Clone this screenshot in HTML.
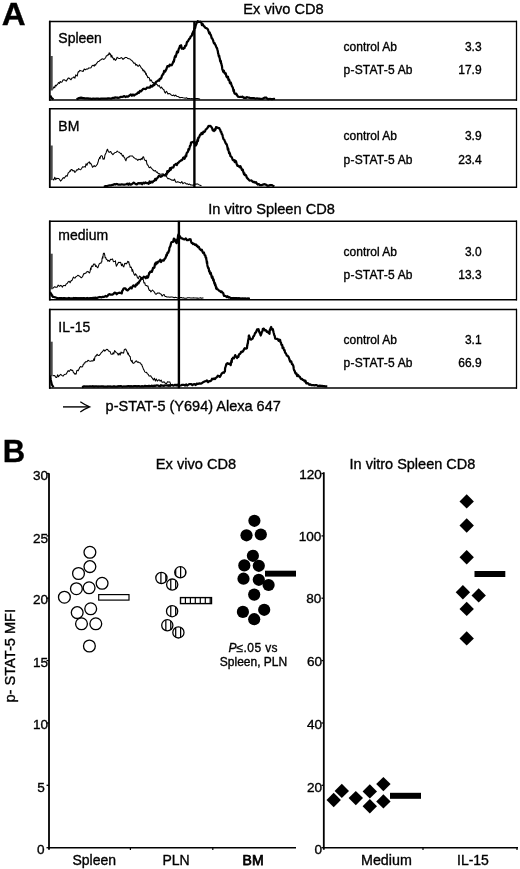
<!DOCTYPE html>
<html><head><meta charset="utf-8"><style>
html,body{margin:0;padding:0;background:#fff;}
svg{display:block;will-change:transform;}
text{font-family:"Liberation Sans", sans-serif;fill:#000;stroke:#000;stroke-width:0.35px;}
</style></head><body>
<svg width="520" height="869" viewBox="0 0 520 869">
<text transform="translate(1.8,25.4) scale(1.04,1)" font-size="31.8" font-weight="bold">A</text>
<text x="2.7" y="461.7" font-size="31" font-weight="bold">B</text>
<text x="243.3" y="13.6" font-size="14.6">Ex vivo CD8</text>
<text x="208.3" y="213.9" font-size="14.6">In vitro Spleen CD8</text>
<polyline points="52.5,89.5 53.2,88.2 54.0,86.9 54.7,87.8 55.4,85.2 56.1,86.0 56.9,84.7 57.6,84.4 58.5,82.5 59.4,83.5 60.2,81.5 61.1,82.3 62.0,82.0 63.0,80.1 64.1,79.7 65.1,80.3 66.2,81.1 67.2,79.6 68.2,78.1 69.1,78.1 70.1,79.0 71.0,79.8 72.0,78.0 73.0,77.8 73.9,76.8 74.9,78.2 75.8,74.8 76.8,75.8 77.3,76.0 77.8,73.2 78.3,71.7 78.8,71.9 79.9,70.4 80.9,70.7 82.0,71.0 83.1,71.5 84.2,69.0 85.4,69.8 86.5,69.0 87.7,69.1 88.8,67.9 90.0,68.0 91.0,67.7 92.1,65.7 93.2,65.2 94.2,66.2 94.9,64.5 95.6,65.2 96.3,63.6 97.0,63.0 98.0,61.5 98.9,61.5 99.9,60.4 100.9,59.8 102.0,58.8 103.0,59.0 103.9,59.4 104.8,58.6 105.7,57.5 106.4,55.7 107.1,55.8 107.8,54.7 108.5,54.9 109.2,52.7 109.8,54.4 110.5,53.9 111.1,57.1 111.8,55.3 112.4,57.5 113.1,58.0 113.8,59.8 114.6,58.6 115.3,60.4 116.2,59.6 117.1,57.3 118.0,58.0 119.0,58.4 120.1,58.5 121.1,57.5 122.1,58.1 123.0,59.4 124.0,58.5 125.4,57.4 126.8,57.5 127.9,58.6 128.9,58.8 130.0,59.0 130.9,60.0 131.7,60.4 132.6,61.3 133.8,63.2 135.0,63.0 135.8,65.2 136.7,64.5 137.6,65.9 138.4,66.2 139.4,64.9 140.5,66.5 141.3,68.0 142.2,68.7 143.0,70.7 143.8,70.0 144.3,72.0 144.8,71.2 145.3,72.5 145.8,74.4 146.2,73.3 146.7,75.7 147.2,75.7 147.7,77.7 148.5,77.3 149.3,77.9 150.1,81.0 150.9,79.7 151.7,80.9 152.5,82.5 153.5,82.6 154.4,84.5 155.4,82.4 156.3,84.0 157.3,84.7 158.2,86.2 159.2,85.4 160.0,87.2 160.7,88.1 161.5,87.0 162.2,88.2 163.0,89.2 163.8,89.5 164.6,92.0 165.4,93.1 166.3,91.3 167.1,92.2 167.9,94.0 169.0,93.5 170.1,93.8 171.2,95.0 172.4,95.6 173.5,95.0 174.6,96.0 175.7,95.1 176.7,96.3 177.8,96.4 178.9,97.0 179.9,97.8 181.0,97.5 182.1,97.5 183.1,97.8 184.2,97.9 185.3,98.2 186.4,97.8 187.5,98.5 188.6,98.5 189.6,98.6 190.7,98.7 191.8,98.6 192.9,98.8 194.1,98.7 195.3,98.5 196.5,98.6 197.7,98.5 198.8,98.7 200.0,99.3" fill="none" stroke="#000" stroke-width="1.05" stroke-linejoin="round"/>
<polyline points="76.5,99.2 78.0,98.6 79.0,98.0 80.0,97.8 81.0,97.7 82.0,97.9 83.0,98.1 84.0,98.2 85.0,98.5 86.0,98.3 87.0,98.4 88.0,98.4 89.0,98.6 90.0,98.5 91.0,98.8 92.0,98.8 93.0,98.6 94.0,98.7 95.0,98.8 96.0,98.7 97.0,98.7 98.0,98.6 99.0,98.9 100.0,98.9 101.0,98.7 102.0,98.7 103.0,98.5 104.0,98.5 105.0,98.5 106.0,98.5 107.0,98.7 108.0,98.4 109.0,98.3 110.0,98.5 111.0,98.6 112.0,98.2 113.0,97.8 114.0,98.0 115.0,97.4 116.0,97.7 117.0,97.5 118.0,97.9 119.0,97.7 120.0,97.4 121.0,96.8 122.0,97.0 123.1,96.6 124.3,96.1 125.4,97.0 126.5,96.4 127.7,96.7 128.8,96.0 129.9,95.2 130.9,94.5 131.9,95.7 133.0,94.5 134.0,95.5 135.0,94.7 136.0,94.2 137.0,93.8 138.0,92.5 139.0,92.8 139.9,90.9 140.9,91.3 141.9,90.4 142.9,89.1 143.9,88.7 144.8,89.0 145.8,89.2 146.9,87.7 148.0,87.5 148.9,87.5 149.8,87.7 150.8,85.8 151.7,86.7 152.6,86.3 153.5,84.4 154.4,85.0 155.4,82.8 156.3,81.7 157.3,81.1 158.2,80.4 159.2,80.6 159.7,78.8 160.3,79.0 160.8,78.8 161.4,77.7 161.9,75.7 162.5,75.2 163.0,73.8 163.5,73.8 164.1,70.9 164.6,71.7 165.2,71.6 165.7,70.4 166.3,69.4 166.8,67.8 167.4,66.1 167.9,66.2 168.9,66.4 169.8,64.6 170.8,65.3 171.7,65.2 172.7,63.3 173.1,62.0 173.5,61.1 173.8,61.7 174.2,60.1 174.6,57.6 175.0,56.5 175.4,55.6 175.7,56.8 176.1,55.5 176.5,53.7 177.0,51.7 177.5,52.7 178.0,52.2 178.4,50.3 178.9,48.5 179.4,48.1 179.9,45.9 180.4,46.0 181.1,45.3 181.9,48.7 182.6,48.5 183.3,48.8 183.9,47.9 184.5,48.1 185.1,45.8 185.7,46.0 186.3,45.0 186.9,42.3 187.5,41.5 188.1,41.2 188.7,39.7 189.4,38.5 190.0,38.5 190.6,36.7 191.3,36.1 191.9,35.4 192.3,33.4 192.6,34.6 193.0,32.1 193.4,31.4 193.7,30.8 194.1,30.8 194.4,28.4 194.8,27.7 195.2,27.9 195.6,25.8 195.9,24.9 196.3,23.9 196.7,22.9 197.7,21.2 198.6,22.0 199.6,21.8 200.4,21.7 201.2,22.0 201.9,25.0 202.7,24.1 203.5,25.8 204.4,26.5 205.4,27.9 206.4,28.1 207.3,28.7 207.8,29.2 208.3,30.7 208.7,31.7 209.2,33.3 209.7,32.4 210.2,34.6 210.7,34.7 211.1,35.8 211.6,38.1 212.1,38.3 212.6,39.3 213.1,40.4 213.5,41.9 214.0,43.3 214.5,42.9 215.0,44.4 215.5,45.0 215.9,46.0 216.4,47.5 216.9,47.9 217.2,48.8 217.5,50.1 217.8,51.0 218.1,53.4 218.4,53.8 218.6,55.3 218.9,56.6 219.2,55.7 219.5,57.6 219.8,58.5 220.1,60.8 220.3,61.5 220.6,60.6 220.9,61.6 221.1,63.6 221.4,63.6 221.6,65.1 221.9,65.7 222.2,68.4 222.4,69.7 222.7,70.0 223.3,71.9 223.9,70.7 224.5,73.1 225.1,73.8 225.7,73.2 226.3,76.1 226.9,77.2 227.5,76.7 228.0,76.9 228.4,79.9 228.9,79.3 229.4,80.5 229.9,82.9 230.4,83.4 230.8,82.5 231.3,84.4 231.7,85.2 232.0,86.4 232.4,86.9 232.8,87.5 233.1,88.9 233.5,91.0 233.9,90.1 234.2,92.6 234.6,93.4 235.5,94.1 236.3,93.7 237.2,95.5 238.1,96.7 239.2,97.0 240.4,96.9 241.5,97.0 242.6,96.6 243.6,97.8 244.7,97.7 245.8,98.0 246.8,97.2 247.9,97.5 248.9,97.5 250.0,98.0 251.0,98.2 252.0,98.0 253.0,98.0 254.0,98.2 255.0,98.5 256.0,98.5 257.0,98.3 258.0,98.5 259.0,98.5 260.0,98.9 261.0,98.9 262.0,99.0 263.0,98.7 264.0,98.0 265.0,97.5 266.0,97.5 267.0,98.3 268.0,99.0 269.0,99.0 270.0,98.8 271.0,99.0 272.0,99.0 273.0,99.0 274.0,98.8 275.0,99.0" fill="none" stroke="#000" stroke-width="2.25" stroke-linejoin="round"/>
<rect x="50.6" y="56" width="2.1" height="34.5" fill="#4a4a4a"/>
<line x1="49" y1="21.5" x2="517" y2="21.5" stroke="#000" stroke-width="1.4"/>
<line x1="49" y1="100.0" x2="517" y2="100.0" stroke="#000" stroke-width="1.4"/>
<line x1="49.8" y1="20.8" x2="49.8" y2="100.7" stroke="#000" stroke-width="1.8"/>
<line x1="516.5" y1="20.8" x2="516.5" y2="100.7" stroke="#000" stroke-width="1.3"/>
<text x="58.3" y="43.2" font-size="14">Spleen</text>
<text x="343.6" y="51.1" font-size="12">control Ab</text>
<text x="343.6" y="74.2" font-size="12" letter-spacing="0.2">p-STAT-5 Ab</text>
<text x="481.6" y="51.1" font-size="12" text-anchor="end">3.3</text>
<text x="481.6" y="74.2" font-size="12" text-anchor="end">17.9</text>
<polyline points="52.8,179.1 53.8,180.0 54.8,177.3 55.7,179.6 56.7,178.2 57.7,178.4 58.6,178.4 59.6,179.5 60.5,181.1 61.5,180.1 62.5,178.7 63.4,177.6 64.3,178.2 65.3,176.7 66.2,175.6 67.2,176.2 67.8,174.2 68.3,172.8 68.9,172.4 69.4,171.8 70.0,170.8 70.5,171.3 71.1,169.5 72.0,169.6 73.0,171.0 74.0,170.6 74.9,172.4 75.9,171.3 76.8,169.7 77.8,169.9 78.7,168.5 79.7,169.5 80.7,169.7 81.6,168.5 82.6,166.8 83.5,167.1 84.5,166.6 85.3,167.2 86.1,163.7 86.9,165.2 87.7,163.2 88.5,162.6 89.3,161.8 90.0,163.7 90.6,163.1 91.2,164.2 91.9,165.6 92.5,167.3 93.2,166.6 94.2,165.6 95.1,166.7 96.0,165.8 97.0,164.7 97.4,164.2 97.9,162.5 98.3,161.3 98.7,159.4 99.2,158.7 99.6,157.5 100.0,158.7 100.5,156.2 100.9,156.0 101.6,155.6 102.3,156.1 103.1,159.3 103.8,158.9 104.2,159.1 104.6,157.5 104.9,155.3 105.3,154.2 105.7,153.4 106.1,153.0 106.5,151.1 106.8,151.0 107.2,149.5 107.6,149.3 108.4,151.6 109.2,152.4 109.9,151.8 110.7,151.6 111.5,153.2 112.9,154.7 114.3,153.2 115.3,152.4 116.3,152.3 117.2,151.0 118.2,152.0 119.2,152.2 119.9,152.8 120.6,153.7 121.3,153.4 122.0,155.1 122.7,156.1 123.3,155.4 124.0,157.2 124.6,157.6 125.2,159.5 125.9,160.8 126.5,158.5 127.2,157.7 127.8,157.8 128.4,156.7 129.1,157.1 129.7,156.0 131.1,156.1 132.6,156.0 133.6,157.5 134.6,158.0 135.5,158.9 136.5,158.9 137.8,160.4 139.0,159.2 140.3,159.9 141.2,158.4 142.0,159.5 142.9,157.0 143.6,156.8 144.4,159.6 145.1,160.3 145.8,160.8 146.3,160.3 146.9,163.8 147.4,165.0 148.0,165.1 148.5,166.4 149.1,167.6 149.6,167.6 150.6,166.9 151.5,168.6 152.5,169.1 153.5,170.6 154.4,171.0 155.4,170.5 156.4,172.2 157.3,172.0 158.3,173.7 159.3,173.6 160.2,174.3 161.2,174.3 162.1,173.9 163.1,173.8 164.1,174.6 165.0,175.8 165.9,175.5 166.9,177.2 167.9,178.8 168.8,178.4 169.8,179.1 170.8,179.5 171.7,180.2 172.7,180.1 173.7,180.4 174.6,179.1 175.6,182.0 176.6,182.2 177.5,181.7 178.5,182.0 179.6,182.4 180.7,183.0 181.8,181.6 182.9,183.7 184.0,182.8 185.1,182.8 186.2,183.9 187.3,183.7 188.5,184.6 189.6,184.1 190.8,185.0 191.9,184.9 193.1,185.3 194.2,184.5 195.4,184.1 196.5,184.1 197.7,183.9 198.6,184.6 199.6,185.1 200.6,185.4 201.5,185.8" fill="none" stroke="#000" stroke-width="1.05" stroke-linejoin="round"/>
<polyline points="104.0,187.0 105.2,186.2 106.4,186.0 107.6,185.8 108.7,185.5 109.8,185.3 110.9,185.4 112.0,184.9 113.1,184.9 114.2,184.2 115.3,184.5 116.4,184.0 117.5,184.2 118.5,184.7 119.6,184.7 120.7,184.7 121.8,184.3 122.8,184.5 123.9,184.5 125.0,184.5 126.1,184.3 127.2,183.7 128.3,184.7 129.3,183.5 130.4,184.6 131.5,184.4 132.6,183.5 133.7,182.6 134.7,183.4 135.8,184.1 136.8,184.4 137.9,183.4 138.9,183.1 140.0,183.5 141.1,182.9 142.2,184.2 143.3,182.7 144.4,183.4 145.5,182.4 146.6,183.1 147.7,183.0 148.7,183.8 149.6,181.3 150.6,182.9 151.6,181.7 152.5,182.4 153.5,181.0 154.3,180.9 155.2,178.9 156.0,180.1 156.9,178.3 157.7,177.7 158.7,176.1 159.6,175.7 160.6,176.8 161.6,176.4 162.5,175.7 163.5,175.0 164.4,175.3 165.4,175.4 166.0,174.0 166.6,174.5 167.3,171.2 167.9,172.4 168.5,170.8 169.2,171.0 170.0,168.2 170.8,169.7 171.5,167.7 172.4,167.6 173.3,167.5 174.2,165.1 175.0,164.7 175.9,164.0 176.8,165.1 177.7,163.0 178.6,162.6 179.5,161.4 180.5,161.0 181.4,160.0 182.3,160.0 183.0,158.0 183.8,157.4 184.5,158.7 185.2,157.0 185.7,155.4 186.2,156.3 186.6,153.4 187.1,152.5 187.6,152.2 188.1,151.2 188.4,149.4 188.7,148.9 189.1,149.6 189.4,148.5 189.7,147.3 190.0,145.8 190.4,145.7 190.7,144.8 191.0,142.6 192.4,142.2 193.8,141.6 194.3,143.2 194.8,142.3 195.3,145.2 195.8,145.5 196.2,144.4 196.5,144.3 196.9,143.0 197.2,141.1 197.6,139.4 198.0,140.9 198.3,137.7 198.7,137.8 199.3,136.8 199.8,135.4 200.4,134.4 200.9,134.6 201.5,133.0 202.5,134.0 203.4,131.7 204.4,132.0 205.0,131.5 205.7,129.5 206.3,129.1 207.0,128.5 207.8,127.4 208.5,126.0 209.2,126.2 210.2,125.9 211.1,126.7 212.1,128.2 212.7,130.3 213.4,130.1 214.0,131.0 214.5,129.3 215.0,130.2 215.5,129.5 216.0,127.2 217.4,127.6 218.8,128.2 219.3,128.1 219.8,129.2 220.2,129.9 220.7,131.6 221.2,131.8 221.7,133.9 222.1,134.1 222.5,135.2 222.9,137.0 223.4,138.9 223.8,139.5 224.2,139.5 224.6,140.7 225.0,141.4 225.4,142.7 225.8,143.2 226.3,144.1 226.7,144.3 227.1,145.8 227.5,147.4 227.8,149.7 228.1,148.3 228.5,150.3 228.8,151.6 229.1,153.2 229.4,152.3 229.8,153.4 230.1,154.3 230.4,156.0 231.2,156.6 231.9,157.5 232.7,159.8 233.4,160.3 234.2,160.2 234.8,162.1 235.5,160.7 236.1,161.6 236.8,164.4 237.4,165.8 238.1,165.6 238.9,166.2 239.7,167.2 240.4,166.2 241.2,168.0 242.0,170.1 242.8,169.6 243.2,171.6 243.6,172.8 244.0,174.2 244.4,173.2 244.8,175.0 245.5,174.8 246.2,175.7 246.8,177.6 247.5,178.4 248.5,179.4 249.5,180.6 250.5,180.5 251.5,180.4 252.4,181.4 253.3,182.2 254.2,181.9 255.1,182.7 256.0,182.2 256.9,183.7 257.9,184.5 258.9,184.1 260.0,185.2 261.0,185.1 262.0,185.1 263.0,184.6 264.0,184.2 265.0,184.4 265.9,184.6 266.8,185.4 267.7,185.8 268.7,185.7 269.7,185.2 270.7,185.0 271.7,185.1 273.0,185.7 274.4,186.2" fill="none" stroke="#000" stroke-width="2.25" stroke-linejoin="round"/>
<rect x="50.6" y="145.5" width="2.1" height="34.6" fill="#4a4a4a"/>
<line x1="49" y1="108.7" x2="517" y2="108.7" stroke="#000" stroke-width="1.4"/>
<line x1="49" y1="187.2" x2="517" y2="187.2" stroke="#000" stroke-width="1.4"/>
<line x1="49.8" y1="108.0" x2="49.8" y2="187.89999999999998" stroke="#000" stroke-width="1.8"/>
<line x1="516.5" y1="108.0" x2="516.5" y2="187.89999999999998" stroke="#000" stroke-width="1.3"/>
<text x="58.3" y="130.5" font-size="14">BM</text>
<text x="343.6" y="140" font-size="12">control Ab</text>
<text x="343.6" y="163.6" font-size="12" letter-spacing="0.2">p-STAT-5 Ab</text>
<text x="481.6" y="140" font-size="12" text-anchor="end">3.9</text>
<text x="481.6" y="163.6" font-size="12" text-anchor="end">23.4</text>
<polyline points="51.8,288.3 52.8,288.3 53.8,287.4 54.7,286.7 55.7,287.3 57.0,287.3 58.2,285.1 59.5,286.3 60.5,285.4 61.5,285.7 62.4,287.1 63.4,285.4 64.3,285.4 65.3,285.7 66.2,283.9 67.2,283.5 68.2,281.9 69.2,281.2 70.1,282.8 71.1,280.6 71.9,280.6 72.7,278.7 73.5,277.1 74.3,278.0 75.1,277.9 75.9,276.7 76.9,276.1 77.8,275.3 78.8,275.8 80.1,276.6 81.3,277.8 82.6,276.7 83.2,275.0 83.9,273.6 84.5,273.8 85.2,273.2 85.8,273.3 86.5,271.9 87.9,271.4 89.3,272.9 89.6,272.9 90.0,271.7 90.3,270.0 90.6,268.1 91.0,269.6 91.3,267.1 92.0,265.8 92.8,266.7 93.5,264.1 94.2,264.2 94.9,264.0 95.6,266.5 96.3,265.7 97.0,267.1 97.8,267.8 98.6,265.6 99.3,263.8 100.1,263.2 100.9,263.3 101.2,262.1 101.5,261.9 101.8,261.9 102.1,258.3 102.3,258.2 102.6,256.6 102.9,258.1 103.2,254.5 103.5,253.2 103.8,253.7 104.3,253.2 104.8,255.3 105.2,257.8 105.7,257.5 106.4,259.5 107.2,259.7 107.9,261.3 108.6,260.4 109.6,261.4 110.5,259.2 111.5,259.4 112.5,258.9 113.4,261.7 114.3,261.6 115.3,261.3 115.5,260.8 115.7,263.8 115.9,263.9 116.1,264.8 116.3,266.2 117.1,264.9 117.8,263.6 118.6,262.3 119.3,262.4 120.1,262.3 120.8,262.8 121.5,265.7 122.3,264.0 123.0,266.2 123.8,266.9 124.6,263.6 125.4,263.3 126.2,264.0 127.0,263.1 127.8,261.3 128.3,262.1 128.8,261.8 129.2,264.1 129.7,264.8 130.2,267.5 130.7,267.1 131.2,267.1 131.7,268.6 132.1,271.3 132.6,269.5 133.1,271.6 133.6,272.9 134.2,274.7 134.9,275.4 135.5,273.8 136.1,274.6 136.8,275.5 137.4,277.7 138.4,278.6 139.3,276.1 140.3,276.5 141.0,278.1 141.6,279.3 142.2,278.3 142.9,279.6 143.4,279.8 143.9,283.0 144.4,282.9 144.8,282.7 145.3,285.1 145.8,285.4 146.5,285.5 147.2,286.1 147.9,286.0 148.7,289.1 149.4,290.4 150.1,290.2 150.8,291.9 151.5,291.2 152.5,290.0 153.4,291.0 154.4,292.1 155.4,293.9 156.3,294.2 157.3,293.1 158.3,293.1 159.2,292.9 160.2,293.8 161.2,294.3 162.1,296.1 163.1,295.0 164.1,294.5 165.0,296.4 165.9,296.5 166.9,296.9 167.9,297.0 168.8,296.9 169.9,297.2 171.0,296.9 172.0,297.0 173.1,297.2 174.2,297.7 175.3,297.2 176.3,297.4 177.4,298.0 178.5,297.9 179.5,297.7 180.5,297.6 181.5,297.6 182.5,297.9 183.5,297.8 184.5,298.2 185.5,298.2 186.5,298.2 187.5,297.8 188.5,297.7 189.5,297.7 190.5,297.9 191.5,298.1 192.5,297.9 193.5,297.8 194.5,297.9 195.5,298.0 196.5,298.1 197.5,298.1 198.5,298.2 199.5,298.1 200.5,297.8 201.5,298.2 202.5,297.9 203.5,298.0" fill="none" stroke="#000" stroke-width="1.05" stroke-linejoin="round"/>
<polyline points="50.0,292.0 50.6,293.2 51.1,293.6 51.7,295.6 52.2,295.3 52.8,296.9 54.0,297.0 55.2,297.3 56.4,297.7 57.6,298.2 58.6,298.4 59.6,298.2 60.7,298.1 61.7,298.2 62.7,298.4 63.7,298.2 64.7,298.1 65.7,298.3 66.8,298.3 67.8,298.4 68.8,298.0 69.8,298.2 70.8,298.3 71.8,298.3 72.9,298.4 73.9,298.0 74.9,298.1 75.9,298.0 76.9,298.1 78.0,298.4 79.0,298.2 80.0,298.4 81.0,298.1 82.0,298.4 83.0,298.2 84.1,298.1 85.1,298.3 86.1,298.4 87.1,298.0 88.1,298.2 89.1,298.3 90.2,298.1 91.2,298.1 92.2,298.2 93.3,297.9 94.3,297.8 95.4,297.7 96.4,297.8 97.5,297.8 98.5,297.3 99.6,297.0 100.6,297.2 101.7,297.4 102.7,296.8 103.8,297.0 104.8,296.4 105.7,295.9 106.7,296.6 107.6,295.9 108.6,294.5 109.6,294.2 110.5,294.6 111.5,294.7 112.4,294.7 113.4,294.0 114.5,292.7 115.6,292.8 116.7,294.2 117.8,293.2 118.9,292.8 120.0,292.7 121.1,293.1 121.7,293.4 122.3,290.7 122.8,290.4 123.4,288.9 124.0,288.3 125.2,288.3 126.4,289.8 127.6,290.4 128.8,289.2 129.8,288.3 130.7,287.4 131.7,288.4 132.6,286.4 133.6,285.4 134.5,286.3 135.3,286.6 136.1,284.5 136.9,284.8 137.7,282.8 138.5,283.4 139.3,281.5 140.0,280.7 140.8,279.2 141.5,278.0 142.2,278.7 143.0,277.8 143.8,276.7 144.8,277.3 145.8,278.3 146.7,276.3 147.7,277.7 148.1,277.1 148.5,275.4 148.8,274.8 149.2,272.9 149.6,272.9 150.3,271.6 151.1,271.5 151.8,271.9 152.5,270.0 153.0,267.9 153.4,268.0 153.9,268.0 154.4,267.5 154.9,264.3 155.4,263.2 155.8,264.5 156.3,262.3 157.3,263.3 158.2,261.6 159.2,261.3 160.2,259.8 161.1,262.0 162.1,260.3 163.1,260.4 163.8,260.6 164.6,258.8 165.3,258.4 166.0,256.5 166.5,254.6 166.9,255.4 167.4,252.9 167.9,252.4 168.3,252.7 168.8,250.8 169.1,250.8 169.4,248.0 169.8,247.1 170.1,246.7 170.4,246.0 170.7,244.7 171.1,243.0 171.4,242.4 171.7,242.1 172.4,242.0 173.1,241.8 173.9,238.6 174.6,239.2 175.1,240.3 175.6,241.9 176.0,240.8 176.5,243.1 176.8,243.0 177.0,239.9 177.2,240.1 177.5,238.9 177.8,238.0 178.0,236.0 178.2,235.3 178.5,234.4 179.1,235.6 179.8,236.1 180.4,237.3 181.4,238.4 182.3,238.4 183.3,239.2 184.6,239.4 185.8,238.5 187.1,240.2 188.1,240.2 189.0,239.5 190.0,239.2 190.6,239.4 191.2,241.9 191.7,242.9 192.3,242.9 192.9,244.0 193.8,243.6 194.8,244.9 195.8,244.4 196.7,246.0 197.4,245.7 198.1,247.2 198.9,247.0 199.6,248.8 200.3,249.4 201.1,250.3 201.8,249.7 202.5,251.7 203.2,253.1 203.9,252.5 204.7,255.3 205.4,255.6 205.6,257.4 205.9,257.7 206.1,257.5 206.4,259.8 206.6,260.5 206.9,263.1 207.1,261.9 207.3,264.9 207.6,266.4 207.8,266.7 208.1,267.9 208.3,268.1 208.7,268.2 209.1,271.4 209.5,270.9 210.0,273.2 210.4,274.1 210.8,272.9 211.2,274.8 211.6,276.6 212.0,277.9 212.4,276.5 212.8,278.2 213.2,280.3 213.6,279.6 214.0,281.5 214.4,283.6 214.7,282.8 215.1,285.3 215.4,284.4 215.8,286.3 216.2,288.5 216.5,287.4 216.9,289.2 217.9,289.3 218.9,290.7 219.8,290.9 220.8,292.1 221.6,291.5 222.4,292.5 223.2,293.1 224.0,295.9 224.8,295.8 225.6,296.0 226.6,297.0 227.5,296.3 228.5,297.5 229.4,297.2 230.4,297.9 231.5,298.0 232.5,298.1 233.6,298.0 234.7,298.2 235.7,298.1 236.8,298.2 237.9,298.4 238.9,298.1 240.0,298.3 241.0,298.5 242.0,298.4 243.0,298.3 244.0,298.5 245.0,298.3 246.0,298.6 247.0,298.5 248.0,298.4 249.0,298.6 250.0,298.5" fill="none" stroke="#000" stroke-width="2.25" stroke-linejoin="round"/>
<rect x="50.6" y="253.7" width="2.1" height="35.6" fill="#4a4a4a"/>
<line x1="49" y1="221.3" x2="517" y2="221.3" stroke="#000" stroke-width="1.4"/>
<line x1="49" y1="299.7" x2="517" y2="299.7" stroke="#000" stroke-width="1.4"/>
<line x1="49.8" y1="220.60000000000002" x2="49.8" y2="300.4" stroke="#000" stroke-width="1.8"/>
<line x1="516.5" y1="220.60000000000002" x2="516.5" y2="300.4" stroke="#000" stroke-width="1.3"/>
<text x="58.3" y="239.5" font-size="14">medium</text>
<text x="343.6" y="255.5" font-size="12">control Ab</text>
<text x="343.6" y="278.6" font-size="12" letter-spacing="0.2">p-STAT-5 Ab</text>
<text x="481.6" y="255.5" font-size="12" text-anchor="end">3.0</text>
<text x="481.6" y="278.6" font-size="12" text-anchor="end">13.3</text>
<polyline points="52.8,375.3 53.8,375.7 54.7,375.5 55.7,377.2 56.7,377.5 57.6,374.8 58.5,376.8 59.5,375.3 60.7,374.3 61.8,375.3 63.0,376.2 64.1,374.8 65.3,374.3 66.3,374.1 67.2,372.3 68.2,370.6 69.2,371.5 70.6,369.5 72.0,370.5 72.7,370.3 73.5,372.8 74.2,373.1 74.9,374.3 75.6,373.5 76.2,374.0 76.8,370.7 77.5,370.2 78.2,370.8 78.8,369.5 79.8,367.3 80.7,366.5 81.6,366.9 82.6,366.7 83.2,364.5 83.8,364.3 84.3,362.9 84.9,363.0 85.5,361.8 86.8,361.8 88.0,360.3 89.3,360.9 90.6,361.3 91.9,360.8 93.2,360.9 93.8,358.8 94.4,360.4 94.9,357.2 95.5,355.9 96.1,356.1 97.1,354.2 98.0,355.4 99.0,355.5 99.9,354.7 100.9,353.2 101.9,352.2 102.8,351.1 103.8,349.7 104.8,351.1 105.7,350.1 106.7,349.3 107.6,349.5 108.6,351.1 109.5,351.3 110.2,351.8 111.0,354.1 111.7,354.2 112.4,354.2 113.1,352.7 113.8,354.0 114.6,350.6 115.3,351.3 116.0,352.4 116.8,352.9 117.5,353.3 118.2,355.1 119.2,353.2 120.1,355.0 121.0,352.1 122.0,353.2 122.8,352.6 123.6,353.1 124.3,349.7 125.1,349.1 125.9,349.3 126.4,350.6 126.9,351.3 127.4,352.7 127.8,354.2 128.3,353.1 128.8,355.1 129.3,355.5 129.8,356.4 130.2,356.5 130.7,360.2 131.2,360.8 131.7,361.6 132.1,360.3 132.6,362.8 133.6,363.4 134.6,362.6 135.5,361.3 136.5,360.9 137.4,362.3 138.4,362.0 139.3,362.8 139.9,362.7 140.5,363.1 141.1,364.3 141.7,364.5 142.3,366.3 142.9,367.6 143.5,369.4 144.1,370.1 144.6,371.6 145.2,372.1 145.8,372.4 146.6,372.3 147.4,373.9 148.2,374.3 149.1,376.1 149.9,375.9 150.7,375.8 151.5,377.2 152.5,378.3 153.4,380.0 154.4,378.2 155.4,381.0 156.3,378.9 157.3,381.1 158.3,380.1 159.2,379.8 160.2,381.1 161.2,380.1 162.1,382.2 163.1,382.3 164.1,381.7 165.0,383.0 166.3,383.9 167.5,381.8 168.8,382.0 169.8,381.9 170.8,384.6 171.7,384.5 172.7,384.9 173.9,385.3 175.0,385.3 176.2,385.9 177.3,385.2 178.5,385.3" fill="none" stroke="#000" stroke-width="1.05" stroke-linejoin="round"/>
<polyline points="82.0,387.2 83.0,386.9 84.0,386.3 85.0,386.4 86.0,386.5 87.0,386.3 88.0,386.5 89.0,386.4 90.0,386.3 91.0,386.3 92.0,386.5 93.0,386.2 94.0,386.6 95.0,386.3 96.0,386.3 97.0,386.3 98.0,386.7 99.0,386.4 100.0,386.5 101.0,386.3 102.0,386.3 103.0,386.3 104.0,386.6 105.0,386.5 106.0,386.6 107.0,386.6 108.0,386.3 109.0,386.5 110.0,386.4 111.0,386.6 112.0,386.6 113.0,386.6 114.0,386.2 115.0,386.6 116.0,386.6 117.0,386.6 118.0,386.2 119.0,386.3 120.0,386.2 121.0,386.2 122.0,386.5 123.0,386.5 124.0,386.4 125.0,386.5 126.0,386.4 127.0,386.3 128.0,386.2 129.0,386.2 130.0,386.5 131.0,386.2 132.0,386.3 133.0,386.3 134.0,386.1 135.0,386.2 136.0,386.2 137.0,386.4 138.0,386.2 139.0,386.2 140.0,386.3 141.0,386.5 142.0,386.2 143.0,386.4 144.0,386.3 145.0,385.9 146.0,386.1 147.0,386.1 148.0,386.2 149.0,385.9 150.0,386.2 151.0,386.0 152.0,385.7 153.0,386.2 154.0,385.6 155.0,386.1 156.0,385.6 157.0,385.4 158.0,385.5 159.0,386.0 160.0,386.1 161.0,385.2 162.0,385.6 163.0,385.6 164.1,385.9 165.1,385.3 166.1,385.5 167.1,385.4 168.1,385.8 169.1,385.2 170.1,385.9 171.1,385.2 172.1,385.0 173.1,385.6 174.1,385.3 175.1,384.8 176.1,385.4 177.1,384.7 178.1,385.6 179.1,385.4 180.1,385.5 181.1,385.3 182.1,384.9 183.1,384.9 184.1,384.9 185.1,385.5 186.1,384.4 187.1,385.5 188.1,384.9 189.2,384.1 190.2,384.2 191.3,384.2 192.4,385.2 193.4,384.4 194.5,384.1 195.6,385.0 196.6,383.6 197.7,384.0 198.7,383.6 199.6,383.4 200.6,383.7 201.6,383.4 202.5,382.7 203.5,382.0 204.6,381.4 205.8,381.2 206.9,380.5 208.1,382.2 209.2,381.1 210.2,381.1 211.1,380.8 212.1,378.7 213.1,379.2 214.1,378.5 215.0,379.0 215.9,377.9 216.9,377.2 217.9,375.7 218.9,376.1 219.8,376.9 220.8,375.3 221.6,373.8 222.3,372.9 223.1,372.5 223.8,372.8 224.6,371.5 224.9,371.4 225.1,368.3 225.4,367.2 225.7,366.4 226.0,365.5 226.2,365.0 226.5,363.8 227.5,363.1 228.4,363.8 229.4,363.6 230.4,364.7 230.7,365.1 231.0,363.4 231.4,360.7 231.7,362.2 232.0,358.8 232.3,359.0 233.0,357.7 233.8,358.4 234.5,356.9 235.2,355.1 235.8,356.7 236.5,356.9 237.1,358.0 237.7,356.3 238.4,356.8 239.0,354.5 239.7,354.0 240.3,353.7 241.0,351.9 241.6,352.4 242.2,351.3 242.9,351.5 243.5,350.4 244.2,349.0 244.8,348.2 245.9,348.6 246.9,348.2 247.1,347.0 247.2,345.1 247.4,345.3 247.6,343.7 247.8,343.6 247.9,343.0 248.1,340.6 248.3,339.9 248.5,339.4 248.7,337.4 248.8,335.8 249.0,335.5 249.5,337.2 250.1,338.7 250.6,339.4 251.1,339.7 251.8,339.2 252.6,338.6 253.3,336.5 253.8,336.1 254.3,335.2 254.8,333.8 255.4,332.5 255.9,332.5 256.4,331.3 257.1,329.4 257.8,329.6 258.5,329.1 258.9,331.0 259.2,331.8 259.6,332.7 260.0,332.7 260.3,334.2 260.7,335.5 261.1,334.3 261.4,333.7 261.8,332.0 262.1,331.7 262.4,331.4 262.8,329.1 263.8,328.6 264.9,330.3 265.9,330.2 266.7,331.8 267.5,331.5 268.3,332.6 269.1,333.4 269.5,333.7 269.8,330.0 270.1,330.3 270.5,328.2 270.9,328.9 271.2,327.0 271.7,329.3 272.2,329.2 272.8,329.1 273.3,331.3 273.6,332.6 273.9,333.5 274.2,335.1 274.6,335.6 274.9,337.0 275.2,338.6 275.5,338.7 276.6,339.0 277.6,338.9 278.6,340.7 279.7,339.7 280.1,339.9 280.5,342.3 281.0,342.6 281.4,344.7 281.8,345.0 282.2,344.9 282.6,348.2 283.0,347.4 283.4,347.5 283.8,349.0 284.2,350.3 284.6,350.1 285.0,352.4 285.6,353.1 286.2,354.0 286.8,355.7 287.4,355.6 288.0,356.2 288.6,357.0 289.2,358.7 289.7,360.3 290.3,361.7 290.8,361.4 291.3,361.4 291.9,364.0 292.4,364.0 292.7,364.8 293.1,365.3 293.4,366.1 293.8,369.0 294.1,370.1 294.5,370.7 294.8,371.3 295.2,372.6 295.5,373.5 296.4,373.4 297.2,376.1 298.1,375.0 298.9,376.4 299.8,376.7 300.6,378.4 301.4,379.2 302.1,379.0 302.9,379.9 303.8,380.0 304.6,381.3 305.5,380.8 306.3,383.4 307.2,383.1 308.2,383.3 309.3,384.8 310.3,384.3 311.4,385.2 312.5,385.1 313.5,385.1 314.6,385.4 315.6,385.2 316.7,385.2 317.7,385.9 318.8,385.8 319.9,385.7 320.9,385.8 322.0,385.9 323.1,386.1 324.1,386.1 325.2,386.3 326.2,386.4 327.3,386.4" fill="none" stroke="#000" stroke-width="2.25" stroke-linejoin="round"/>
<rect x="50.6" y="341.7" width="2.1" height="34.6" fill="#4a4a4a"/>
<line x1="49" y1="309.5" x2="517" y2="309.5" stroke="#000" stroke-width="1.4"/>
<line x1="49" y1="388.0" x2="517" y2="388.0" stroke="#000" stroke-width="1.4"/>
<line x1="49.8" y1="308.8" x2="49.8" y2="388.7" stroke="#000" stroke-width="1.8"/>
<line x1="516.5" y1="308.8" x2="516.5" y2="388.7" stroke="#000" stroke-width="1.3"/>
<text x="58.3" y="331.7" font-size="14">IL-15</text>
<text x="343.6" y="343.6" font-size="12">control Ab</text>
<text x="343.6" y="366.7" font-size="12" letter-spacing="0.2">p-STAT-5 Ab</text>
<text x="481.6" y="343.6" font-size="12" text-anchor="end">3.1</text>
<text x="481.6" y="366.7" font-size="12" text-anchor="end">66.9</text>
<polyline points="50.2,95.5 51.5,97.8 53.5,99.3" fill="none" stroke="#000" stroke-width="2.2"/>
<polyline points="50.2,375.5 50.8,380 51.8,384.5 53.5,387.3" fill="none" stroke="#000" stroke-width="2.2"/>
<line x1="194.4" y1="21" x2="194.4" y2="187.5" stroke="#000" stroke-width="2.4"/>
<line x1="178.9" y1="220.8" x2="178.9" y2="388.3" stroke="#000" stroke-width="2.4"/>
<line x1="63" y1="406.9" x2="89" y2="406.9" stroke="#000" stroke-width="1.4"/>
<path d="M80.3,401.8 Q85,405 89.6,406.9 Q85,408.8 80.3,412" fill="none" stroke="#000" stroke-width="1.3"/>
<text x="105.6" y="411.0" font-size="14.5">p-STAT-5 (Y694) Alexa 647</text>
<text x="155.8" y="468.6" font-size="14.6">Ex vivo CD8</text>
<text x="349.6" y="468.7" font-size="14.5">In vitro Spleen CD8</text>
<line x1="49" y1="473.2" x2="49" y2="849.7" stroke="#000" stroke-width="1.8"/>
<line x1="48" y1="847.7" x2="296" y2="847.7" stroke="#000" stroke-width="1.6"/>
<line x1="46.5" y1="847.7" x2="49" y2="847.7" stroke="#000" stroke-width="1.3"/>
<text x="44.6" y="853.6" font-size="13.6" text-anchor="end">0</text>
<line x1="46.5" y1="785.3" x2="49" y2="785.3" stroke="#000" stroke-width="1.3"/>
<text x="44.8" y="792.0" font-size="13.6" text-anchor="end">5</text>
<line x1="46.5" y1="723.0" x2="49" y2="723.0" stroke="#000" stroke-width="1.3"/>
<text x="48.2" y="729.1" font-size="13.6" text-anchor="end">10</text>
<line x1="46.5" y1="660.6" x2="49" y2="660.6" stroke="#000" stroke-width="1.3"/>
<text x="48.2" y="666.9" font-size="13.6" text-anchor="end">15</text>
<line x1="46.5" y1="598.2" x2="49" y2="598.2" stroke="#000" stroke-width="1.3"/>
<text x="48.2" y="604.4" font-size="13.6" text-anchor="end">20</text>
<line x1="46.5" y1="535.9" x2="49" y2="535.9" stroke="#000" stroke-width="1.3"/>
<text x="48.2" y="542.6" font-size="13.6" text-anchor="end">25</text>
<line x1="46.5" y1="473.5" x2="49" y2="473.5" stroke="#000" stroke-width="1.3"/>
<text x="48.2" y="479.5" font-size="13.6" text-anchor="end">30</text>
<line x1="130.4" y1="847.7" x2="130.4" y2="850.0" stroke="#000" stroke-width="1.2"/>
<line x1="212.8" y1="847.7" x2="212.8" y2="850.0" stroke="#000" stroke-width="1.2"/>
<line x1="323.8" y1="472.3" x2="323.8" y2="849.7" stroke="#000" stroke-width="1.8"/>
<line x1="323" y1="847.7" x2="518" y2="847.7" stroke="#000" stroke-width="1.6"/>
<line x1="321.5" y1="847.7" x2="324" y2="847.7" stroke="#000" stroke-width="1.3"/>
<text x="322.0" y="853.6" font-size="13.6" text-anchor="end">0</text>
<line x1="321.5" y1="785.3" x2="324" y2="785.3" stroke="#000" stroke-width="1.3"/>
<text x="322.0" y="792.4" font-size="13.6" text-anchor="end">20</text>
<line x1="321.5" y1="723.0" x2="324" y2="723.0" stroke="#000" stroke-width="1.3"/>
<text x="322.0" y="729.4" font-size="13.6" text-anchor="end">40</text>
<line x1="321.5" y1="660.6" x2="324" y2="660.6" stroke="#000" stroke-width="1.3"/>
<text x="322.0" y="666.1" font-size="13.6" text-anchor="end">60</text>
<line x1="321.5" y1="598.2" x2="324" y2="598.2" stroke="#000" stroke-width="1.3"/>
<text x="321.4" y="603.4" font-size="13.6" text-anchor="end">80</text>
<line x1="321.5" y1="535.9" x2="324" y2="535.9" stroke="#000" stroke-width="1.3"/>
<text x="321.4" y="541.1" font-size="13.6" text-anchor="end">100</text>
<line x1="321.5" y1="473.5" x2="324" y2="473.5" stroke="#000" stroke-width="1.3"/>
<text x="321.9" y="478.5" font-size="13.6" text-anchor="end">120</text>
<line x1="423" y1="847.7" x2="423" y2="850.0" stroke="#000" stroke-width="1.2"/>
<line x1="517" y1="847.7" x2="517" y2="850.0" stroke="#000" stroke-width="1.2"/>
<text x="72.5" y="865" font-size="14">Spleen</text>
<text x="162.5" y="865" font-size="14">PLN</text>
<text x="242.6" y="865" font-size="14" style="stroke-width:0.75px">BM</text>
<text x="361" y="865" font-size="14" textLength="50.8" lengthAdjust="spacingAndGlyphs">Medium</text>
<text x="457" y="865" font-size="14">IL-15</text>
<text transform="translate(15,702.5) rotate(-90)" font-size="14.4" textLength="93.6" lengthAdjust="spacingAndGlyphs">p- STAT-5 MFI</text>
<text x="228.6" y="651.5" font-size="12"><tspan font-style="italic">P</tspan><tspan letter-spacing="0.4">≤.05 vs</tspan></text>
<text x="219.8" y="665.6" font-size="12">Spleen, PLN</text>
<circle cx="89.9" cy="552.3" r="5.9" fill="#fff" stroke="#000" stroke-width="1.3"/>
<circle cx="89.9" cy="566.6" r="5.9" fill="#fff" stroke="#000" stroke-width="1.3"/>
<circle cx="78.5" cy="573.5" r="5.9" fill="#fff" stroke="#000" stroke-width="1.3"/>
<circle cx="102.1" cy="583.3" r="5.9" fill="#fff" stroke="#000" stroke-width="1.3"/>
<circle cx="76.4" cy="588.7" r="5.9" fill="#fff" stroke="#000" stroke-width="1.3"/>
<circle cx="89.1" cy="587.8" r="5.9" fill="#fff" stroke="#000" stroke-width="1.3"/>
<circle cx="64.4" cy="597.2" r="5.9" fill="#fff" stroke="#000" stroke-width="1.3"/>
<circle cx="90.7" cy="608.8" r="5.9" fill="#fff" stroke="#000" stroke-width="1.3"/>
<circle cx="77.2" cy="612.6" r="5.9" fill="#fff" stroke="#000" stroke-width="1.3"/>
<circle cx="81.5" cy="623.8" r="5.9" fill="#fff" stroke="#000" stroke-width="1.3"/>
<circle cx="95.8" cy="623.8" r="5.9" fill="#fff" stroke="#000" stroke-width="1.3"/>
<circle cx="89.4" cy="646" r="5.9" fill="#fff" stroke="#000" stroke-width="1.3"/>
<rect x="98.7" y="594.6" width="30.3" height="5.5" fill="#fff" stroke="#000" stroke-width="1.2"/>
<defs><pattern id="vs" patternUnits="userSpaceOnUse" x="0" y="0" width="4.93" height="10"><rect x="2.5" y="0" width="1.25" height="10" fill="#000"/></pattern><clipPath id="cp"><circle cx="180.3" cy="572.3" r="5.6"/><circle cx="161.4" cy="578" r="5.6"/><circle cx="172.2" cy="584.6" r="5.6"/><circle cx="172.1" cy="611.2" r="5.6"/><circle cx="167.3" cy="625.3" r="5.6"/><circle cx="178.4" cy="632.4" r="5.6"/></clipPath></defs>
<circle cx="180.3" cy="572.3" r="5.6" fill="#fff"/>
<line x1="175.69" y1="569.12" x2="175.69" y2="575.48" stroke="#000" stroke-width="1.25"/>
<line x1="180.62" y1="566.71" x2="180.62" y2="577.89" stroke="#000" stroke-width="1.25"/>
<line x1="185.55" y1="570.35" x2="185.55" y2="574.25" stroke="#000" stroke-width="1.25"/>
<circle cx="180.3" cy="572.3" r="5.6" fill="none" stroke="#000" stroke-width="1.3"/>
<circle cx="161.4" cy="578" r="5.6" fill="#fff"/>
<line x1="160.90" y1="572.42" x2="160.90" y2="583.58" stroke="#000" stroke-width="1.25"/>
<line x1="165.83" y1="574.57" x2="165.83" y2="581.43" stroke="#000" stroke-width="1.25"/>
<circle cx="161.4" cy="578" r="5.6" fill="none" stroke="#000" stroke-width="1.3"/>
<circle cx="172.2" cy="584.6" r="5.6" fill="#fff"/>
<line x1="170.76" y1="579.19" x2="170.76" y2="590.01" stroke="#000" stroke-width="1.25"/>
<line x1="175.69" y1="580.22" x2="175.69" y2="588.98" stroke="#000" stroke-width="1.25"/>
<circle cx="172.2" cy="584.6" r="5.6" fill="none" stroke="#000" stroke-width="1.3"/>
<circle cx="172.1" cy="611.2" r="5.6" fill="#fff"/>
<line x1="170.76" y1="605.76" x2="170.76" y2="616.64" stroke="#000" stroke-width="1.25"/>
<line x1="175.69" y1="606.90" x2="175.69" y2="615.50" stroke="#000" stroke-width="1.25"/>
<circle cx="172.1" cy="611.2" r="5.6" fill="none" stroke="#000" stroke-width="1.3"/>
<circle cx="167.3" cy="625.3" r="5.6" fill="#fff"/>
<line x1="165.83" y1="619.90" x2="165.83" y2="630.70" stroke="#000" stroke-width="1.25"/>
<line x1="170.76" y1="620.90" x2="170.76" y2="629.70" stroke="#000" stroke-width="1.25"/>
<circle cx="167.3" cy="625.3" r="5.6" fill="none" stroke="#000" stroke-width="1.3"/>
<circle cx="178.4" cy="632.4" r="5.6" fill="#fff"/>
<line x1="175.69" y1="627.50" x2="175.69" y2="637.30" stroke="#000" stroke-width="1.25"/>
<line x1="180.62" y1="627.26" x2="180.62" y2="637.54" stroke="#000" stroke-width="1.25"/>
<circle cx="178.4" cy="632.4" r="5.6" fill="none" stroke="#000" stroke-width="1.3"/>
<rect x="180.5" y="597.6" width="31" height="6" fill="#fff" stroke="#000" stroke-width="1.4"/>
<line x1="185.4" y1="597.6" x2="185.4" y2="603.6" stroke="#000" stroke-width="1.2"/>
<line x1="190.4" y1="597.6" x2="190.4" y2="603.6" stroke="#000" stroke-width="1.2"/>
<line x1="195.3" y1="597.6" x2="195.3" y2="603.6" stroke="#000" stroke-width="1.2"/>
<line x1="200.3" y1="597.6" x2="200.3" y2="603.6" stroke="#000" stroke-width="1.2"/>
<line x1="205.3" y1="597.6" x2="205.3" y2="603.6" stroke="#000" stroke-width="1.2"/>
<line x1="210.2" y1="597.6" x2="210.2" y2="603.6" stroke="#000" stroke-width="1.2"/>
<circle cx="254.4" cy="520.8" r="6.1" fill="#000"/>
<circle cx="246.5" cy="535.3" r="6.1" fill="#000"/>
<circle cx="260.8" cy="534.5" r="6.1" fill="#000"/>
<circle cx="252.9" cy="555.8" r="6.1" fill="#000"/>
<circle cx="244.3" cy="565.4" r="6.1" fill="#000"/>
<circle cx="258.8" cy="565.8" r="6.1" fill="#000"/>
<circle cx="243.5" cy="578.7" r="6.1" fill="#000"/>
<circle cx="258.8" cy="579.8" r="6.1" fill="#000"/>
<circle cx="268.6" cy="585" r="6.1" fill="#000"/>
<circle cx="254.2" cy="594.6" r="6.1" fill="#000"/>
<circle cx="242.9" cy="611.9" r="6.1" fill="#000"/>
<circle cx="264.2" cy="609.8" r="6.1" fill="#000"/>
<circle cx="254.2" cy="619.2" r="6.1" fill="#000"/>
<rect x="265" y="570.7" width="31" height="5.9" fill="#000"/>
<polygon points="466.7,494.2 473.9,501.4 466.7,508.59999999999997 459.5,501.4" fill="#000"/>
<polygon points="466.7,518.3 473.9,525.5 466.7,532.7 459.5,525.5" fill="#000"/>
<polygon points="466.7,550.0 473.9,557.2 466.7,564.4000000000001 459.5,557.2" fill="#000"/>
<polygon points="462.9,585.0 470.09999999999997,592.2 462.9,599.4000000000001 455.7,592.2" fill="#000"/>
<polygon points="478.7,588.1999999999999 485.9,595.4 478.7,602.6 471.5,595.4" fill="#000"/>
<polygon points="466.7,601.6999999999999 473.9,608.9 466.7,616.1 459.5,608.9" fill="#000"/>
<polygon points="466.7,631.1999999999999 473.9,638.4 466.7,645.6 459.5,638.4" fill="#000"/>
<polygon points="333.7,792.8 340.9,800 333.7,807.2 326.5,800" fill="#000"/>
<polygon points="341.8,783.6999999999999 349.0,790.9 341.8,798.1 334.6,790.9" fill="#000"/>
<polygon points="355.8,790.9 363.0,798.1 355.8,805.3000000000001 348.6,798.1" fill="#000"/>
<polygon points="369.8,784.1999999999999 377.0,791.4 369.8,798.6 362.6,791.4" fill="#000"/>
<polygon points="369.8,799.0999999999999 377.0,806.3 369.8,813.5 362.6,806.3" fill="#000"/>
<polygon points="383.4,776.9 390.59999999999997,784.1 383.4,791.3000000000001 376.2,784.1" fill="#000"/>
<polygon points="383.4,794.1999999999999 390.59999999999997,801.4 383.4,808.6 376.2,801.4" fill="#000"/>
<rect x="474.5" y="571" width="30.8" height="6" fill="#000"/>
<rect x="390" y="792.8" width="31" height="6" fill="#000"/>
</svg>
</body></html>
